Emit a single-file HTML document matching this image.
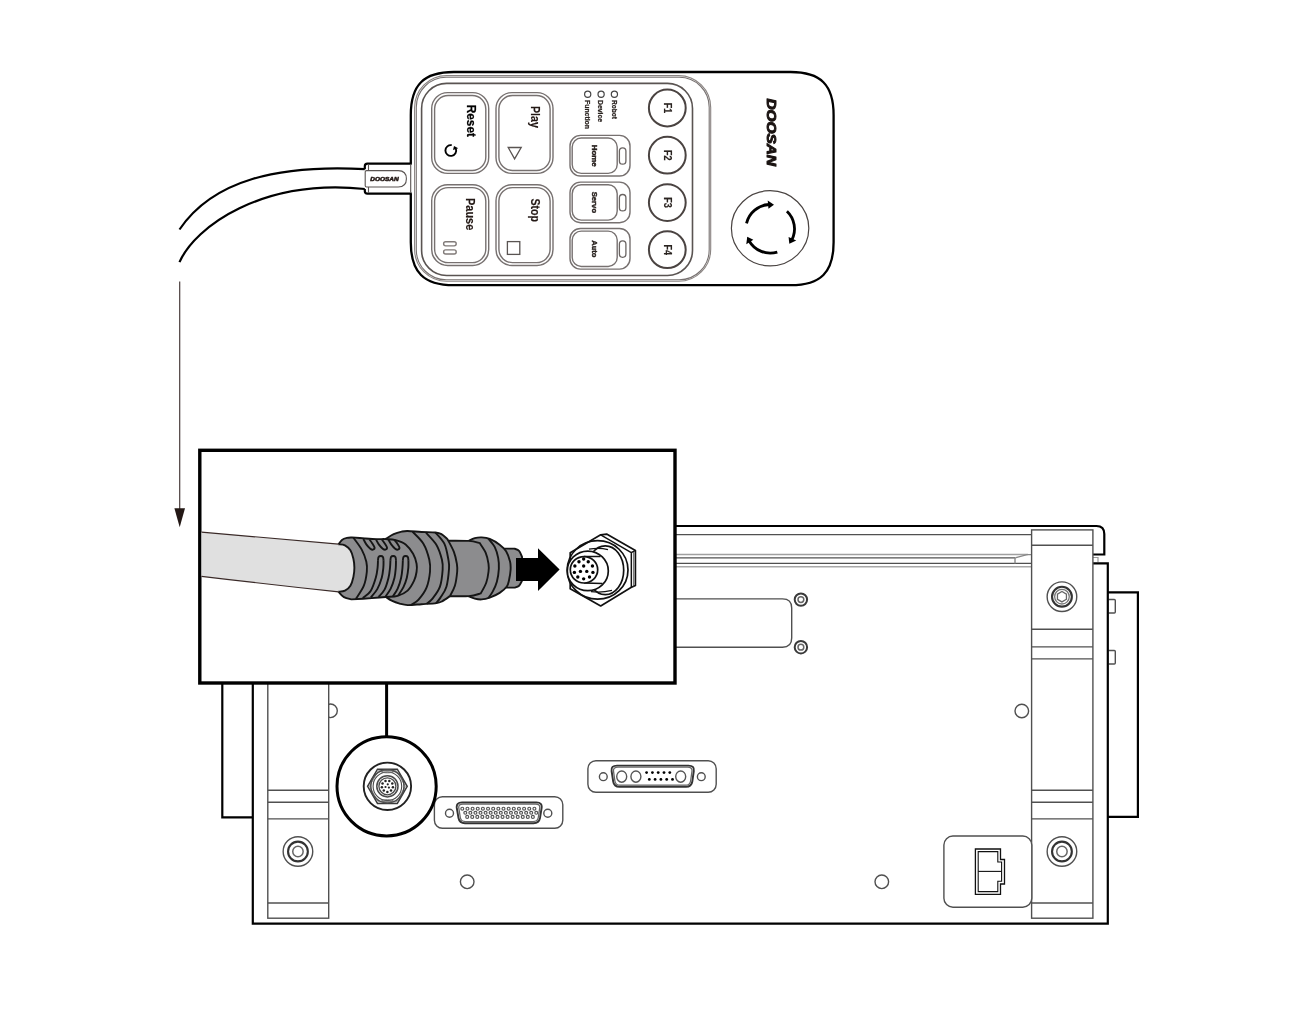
<!DOCTYPE html>
<html lang="en"><head><meta charset="utf-8"><title>Teach pendant connection</title>
<style>
html,body{margin:0;padding:0;background:#fff;}
body{width:1307px;height:1025px;overflow:hidden;}
svg{display:block;font-family:"Liberation Sans","DejaVu Sans",sans-serif;}
</style></head>
<body>
<svg width="1307" height="1025" viewBox="0 0 1307 1025">
<defs><filter id="soft" x="0" y="0" width="1307" height="1025" filterUnits="userSpaceOnUse" color-interpolation-filters="sRGB"><feGaussianBlur stdDeviation="0.45"/></filter></defs>
<rect width="1307" height="1025" fill="#fff"/>
<g filter="url(#soft)">
<path d="M252.8 817.3 H222.3 V592.3 H252.8" fill="none" stroke="#000" stroke-width="2.2" stroke-linejoin="miter"/>
<path d="M1107.8 592.3 H1137.9 V816.8 H1107.8" fill="none" stroke="#000" stroke-width="2.2" />
<path d="M1108.5 599.5 H1114.3 Q1115.3 599.5 1115.3 600.5 V612 Q1115.3 613 1114.3 613 H1108.5" fill="none" stroke="#505050" stroke-width="1.4" />
<path d="M1108.5 650.5 H1114.3 Q1115.3 650.5 1115.3 651.5 V663 Q1115.3 664 1114.3 664 H1108.5" fill="none" stroke="#505050" stroke-width="1.4" />
<path d="M1093 563.3 H1107.8 V923.6 H252.8 V560" fill="#fff" stroke="#000" stroke-width="2.2" />
<path d="M600 526 H1096.5 Q1104.3 526 1104.3 534 V554.5 H1093" fill="none" stroke="#000" stroke-width="2.2" />
<line x1="600.00" y1="534.60" x2="1031.80" y2="534.60" stroke="#505050" stroke-width="1.4" />
<line x1="600.00" y1="554.60" x2="1028.00" y2="554.60" stroke="#a0a0a0" stroke-width="1.5" />
<line x1="600.00" y1="557.90" x2="1015.00" y2="557.90" stroke="#505050" stroke-width="1.4" />
<line x1="600.00" y1="563.40" x2="1031.80" y2="563.40" stroke="#505050" stroke-width="1.4" />
<line x1="600.00" y1="566.70" x2="1031.80" y2="566.70" stroke="#a8a8a8" stroke-width="1.5" />
<path d="M1015 563.4 V558.6 Q1015 557.9 1016 557.6 L1027 554.6 H1031.8" fill="none" stroke="#888" stroke-width="1.4" />
<path d="M1093 557.5 H1098 V562" fill="none" stroke="#999" stroke-width="1.2" />
<path d="M600 598.9 H782.5 Q791.7 598.9 791.7 608 V638 Q791.7 647.2 782.5 647.2 H600" fill="none" stroke="#505050" stroke-width="1.4" />
<circle cx="800.90" cy="599.60" r="6.20" fill="none" stroke="#3a3a3a" stroke-width="2.0"/>
<circle cx="800.90" cy="599.60" r="2.90" fill="none" stroke="#666" stroke-width="1.5"/>
<circle cx="800.90" cy="647.20" r="6.20" fill="none" stroke="#3a3a3a" stroke-width="2.0"/>
<circle cx="800.90" cy="647.20" r="2.90" fill="none" stroke="#666" stroke-width="1.5"/>
<circle cx="1021.80" cy="711.00" r="6.80" fill="none" stroke="#505050" stroke-width="1.4"/>
<circle cx="467.20" cy="881.80" r="6.80" fill="none" stroke="#505050" stroke-width="1.4"/>
<circle cx="881.80" cy="881.80" r="6.80" fill="none" stroke="#505050" stroke-width="1.4"/>
<circle cx="330.50" cy="710.80" r="6.80" fill="none" stroke="#505050" stroke-width="1.4"/>
<rect x="267.8" y="529.9" width="60.90" height="388.30" fill="#fff" stroke="#505050" stroke-width="1.4"/>
<line x1="267.80" y1="545.30" x2="328.70" y2="545.30" stroke="#505050" stroke-width="1.4" />
<line x1="267.80" y1="629.20" x2="328.70" y2="629.20" stroke="#505050" stroke-width="1.4" />
<line x1="267.80" y1="646.90" x2="328.70" y2="646.90" stroke="#505050" stroke-width="1.4" />
<line x1="267.80" y1="658.90" x2="328.70" y2="658.90" stroke="#505050" stroke-width="1.4" />
<line x1="267.80" y1="790.20" x2="328.70" y2="790.20" stroke="#505050" stroke-width="1.4" />
<line x1="267.80" y1="802.20" x2="328.70" y2="802.20" stroke="#505050" stroke-width="1.4" />
<line x1="267.80" y1="818.90" x2="328.70" y2="818.90" stroke="#505050" stroke-width="1.4" />
<line x1="267.80" y1="903.00" x2="328.70" y2="903.00" stroke="#505050" stroke-width="1.4" />
<circle cx="297.95" cy="596.70" r="14.80" fill="none" stroke="#505050" stroke-width="1.4"/>
<circle cx="297.95" cy="596.70" r="9.90" fill="none" stroke="#333" stroke-width="2.1"/>
<circle cx="297.95" cy="596.70" r="7.30" fill="none" stroke="#777" stroke-width="1.3"/>
<polygon points="302.45,599.30 297.95,601.90 293.45,599.30 293.45,594.10 297.95,591.50 302.45,594.10" fill="none" stroke="#666" stroke-width="1.3"/>
<circle cx="297.95" cy="851.50" r="14.80" fill="none" stroke="#505050" stroke-width="1.4"/>
<circle cx="297.95" cy="851.50" r="9.90" fill="none" stroke="#333" stroke-width="2.1"/>
<circle cx="297.95" cy="851.50" r="5.20" fill="none" stroke="#666" stroke-width="1.5"/>
<rect x="1031.6" y="529.9" width="61.30" height="388.30" fill="#fff" stroke="#505050" stroke-width="1.4"/>
<line x1="1031.60" y1="545.30" x2="1092.90" y2="545.30" stroke="#505050" stroke-width="1.4" />
<line x1="1031.60" y1="629.20" x2="1092.90" y2="629.20" stroke="#505050" stroke-width="1.4" />
<line x1="1031.60" y1="646.90" x2="1092.90" y2="646.90" stroke="#505050" stroke-width="1.4" />
<line x1="1031.60" y1="658.90" x2="1092.90" y2="658.90" stroke="#505050" stroke-width="1.4" />
<line x1="1031.60" y1="790.20" x2="1092.90" y2="790.20" stroke="#505050" stroke-width="1.4" />
<line x1="1031.60" y1="802.20" x2="1092.90" y2="802.20" stroke="#505050" stroke-width="1.4" />
<line x1="1031.60" y1="818.90" x2="1092.90" y2="818.90" stroke="#505050" stroke-width="1.4" />
<line x1="1031.60" y1="903.00" x2="1092.90" y2="903.00" stroke="#505050" stroke-width="1.4" />
<circle cx="1061.95" cy="596.70" r="14.80" fill="none" stroke="#505050" stroke-width="1.4"/>
<circle cx="1061.95" cy="596.70" r="9.90" fill="none" stroke="#333" stroke-width="2.1"/>
<circle cx="1061.95" cy="596.70" r="7.30" fill="none" stroke="#777" stroke-width="1.3"/>
<polygon points="1066.45,599.30 1061.95,601.90 1057.45,599.30 1057.45,594.10 1061.95,591.50 1066.45,594.10" fill="none" stroke="#666" stroke-width="1.3"/>
<circle cx="1061.95" cy="851.50" r="14.80" fill="none" stroke="#505050" stroke-width="1.4"/>
<circle cx="1061.95" cy="851.50" r="9.90" fill="none" stroke="#333" stroke-width="2.1"/>
<circle cx="1061.95" cy="851.50" r="5.20" fill="none" stroke="#666" stroke-width="1.5"/>
<rect x="434.40" y="796.70" width="128.40" height="31.60" rx="8" ry="8" fill="none" stroke="#505050" stroke-width="1.4" />
<circle cx="449.50" cy="813.30" r="4.00" fill="none" stroke="#505050" stroke-width="1.4"/>
<circle cx="547.80" cy="813.30" r="4.00" fill="none" stroke="#505050" stroke-width="1.4"/>
<path d="M462 802.4 H536.5 Q542.5 802.4 541.6 808 L540 818 Q539 823.2 533.5 823.2 H465 Q459.5 823.2 458.5 818 L456.8 808 Q456 802.4 462 802.4 Z" fill="none" stroke="#333" stroke-width="1.9" />
<path d="M463 804 H535.5 Q540.3 804 539.7 808 L538.3 817.5 Q537.6 821.6 533 821.6 H465.6 Q461 821.6 460.3 817.5 L458.8 808 Q458.2 804 463 804 Z" fill="none" stroke="#666" stroke-width="1.3" />
<circle cx="462.30" cy="808.70" r="1.45" fill="none" stroke="#555" stroke-width="1.2"/>
<circle cx="467.45" cy="808.70" r="1.45" fill="none" stroke="#555" stroke-width="1.2"/>
<circle cx="472.60" cy="808.70" r="1.45" fill="none" stroke="#555" stroke-width="1.2"/>
<circle cx="477.75" cy="808.70" r="1.45" fill="none" stroke="#555" stroke-width="1.2"/>
<circle cx="482.90" cy="808.70" r="1.45" fill="none" stroke="#555" stroke-width="1.2"/>
<circle cx="488.05" cy="808.70" r="1.45" fill="none" stroke="#555" stroke-width="1.2"/>
<circle cx="493.20" cy="808.70" r="1.45" fill="none" stroke="#555" stroke-width="1.2"/>
<circle cx="498.35" cy="808.70" r="1.45" fill="none" stroke="#555" stroke-width="1.2"/>
<circle cx="503.50" cy="808.70" r="1.45" fill="none" stroke="#555" stroke-width="1.2"/>
<circle cx="508.65" cy="808.70" r="1.45" fill="none" stroke="#555" stroke-width="1.2"/>
<circle cx="513.80" cy="808.70" r="1.45" fill="none" stroke="#555" stroke-width="1.2"/>
<circle cx="518.95" cy="808.70" r="1.45" fill="none" stroke="#555" stroke-width="1.2"/>
<circle cx="524.10" cy="808.70" r="1.45" fill="none" stroke="#555" stroke-width="1.2"/>
<circle cx="529.25" cy="808.70" r="1.45" fill="none" stroke="#555" stroke-width="1.2"/>
<circle cx="534.40" cy="808.70" r="1.45" fill="none" stroke="#555" stroke-width="1.2"/>
<circle cx="465.30" cy="812.80" r="1.45" fill="none" stroke="#555" stroke-width="1.2"/>
<circle cx="470.37" cy="812.80" r="1.45" fill="none" stroke="#555" stroke-width="1.2"/>
<circle cx="475.44" cy="812.80" r="1.45" fill="none" stroke="#555" stroke-width="1.2"/>
<circle cx="480.51" cy="812.80" r="1.45" fill="none" stroke="#555" stroke-width="1.2"/>
<circle cx="485.58" cy="812.80" r="1.45" fill="none" stroke="#555" stroke-width="1.2"/>
<circle cx="490.65" cy="812.80" r="1.45" fill="none" stroke="#555" stroke-width="1.2"/>
<circle cx="495.72" cy="812.80" r="1.45" fill="none" stroke="#555" stroke-width="1.2"/>
<circle cx="500.79" cy="812.80" r="1.45" fill="none" stroke="#555" stroke-width="1.2"/>
<circle cx="505.86" cy="812.80" r="1.45" fill="none" stroke="#555" stroke-width="1.2"/>
<circle cx="510.93" cy="812.80" r="1.45" fill="none" stroke="#555" stroke-width="1.2"/>
<circle cx="516.00" cy="812.80" r="1.45" fill="none" stroke="#555" stroke-width="1.2"/>
<circle cx="521.07" cy="812.80" r="1.45" fill="none" stroke="#555" stroke-width="1.2"/>
<circle cx="526.14" cy="812.80" r="1.45" fill="none" stroke="#555" stroke-width="1.2"/>
<circle cx="531.21" cy="812.80" r="1.45" fill="none" stroke="#555" stroke-width="1.2"/>
<circle cx="536.28" cy="812.80" r="1.45" fill="none" stroke="#555" stroke-width="1.2"/>
<circle cx="467.20" cy="816.90" r="1.45" fill="none" stroke="#555" stroke-width="1.2"/>
<circle cx="472.25" cy="816.90" r="1.45" fill="none" stroke="#555" stroke-width="1.2"/>
<circle cx="477.30" cy="816.90" r="1.45" fill="none" stroke="#555" stroke-width="1.2"/>
<circle cx="482.35" cy="816.90" r="1.45" fill="none" stroke="#555" stroke-width="1.2"/>
<circle cx="487.40" cy="816.90" r="1.45" fill="none" stroke="#555" stroke-width="1.2"/>
<circle cx="492.45" cy="816.90" r="1.45" fill="none" stroke="#555" stroke-width="1.2"/>
<circle cx="497.50" cy="816.90" r="1.45" fill="none" stroke="#555" stroke-width="1.2"/>
<circle cx="502.55" cy="816.90" r="1.45" fill="none" stroke="#555" stroke-width="1.2"/>
<circle cx="507.60" cy="816.90" r="1.45" fill="none" stroke="#555" stroke-width="1.2"/>
<circle cx="512.65" cy="816.90" r="1.45" fill="none" stroke="#555" stroke-width="1.2"/>
<circle cx="517.70" cy="816.90" r="1.45" fill="none" stroke="#555" stroke-width="1.2"/>
<circle cx="522.75" cy="816.90" r="1.45" fill="none" stroke="#555" stroke-width="1.2"/>
<circle cx="527.80" cy="816.90" r="1.45" fill="none" stroke="#555" stroke-width="1.2"/>
<circle cx="532.85" cy="816.90" r="1.45" fill="none" stroke="#555" stroke-width="1.2"/>
<rect x="587.90" y="760.70" width="128.30" height="31.60" rx="8" ry="8" fill="none" stroke="#505050" stroke-width="1.4" />
<circle cx="603.30" cy="776.70" r="3.90" fill="none" stroke="#505050" stroke-width="1.4"/>
<circle cx="701.30" cy="776.70" r="3.90" fill="none" stroke="#505050" stroke-width="1.4"/>
<path d="M617 765.6 H688.5 Q694.6 765.6 693.8 771 L692.3 781.5 Q691.5 786.8 686 786.8 H619.5 Q614 786.8 613.2 781.5 L611.6 771 Q610.8 765.6 617 765.6 Z" fill="none" stroke="#333" stroke-width="1.9" />
<path d="M618 767.2 H687.5 Q692.6 767.2 692 771.2 L690.6 781 Q690 785.2 685.5 785.2 H620 Q615.5 785.2 614.9 781 L613.5 771.2 Q612.9 767.2 618 767.2 Z" fill="none" stroke="#666" stroke-width="1.3" />
<ellipse cx="621.7" cy="776.6" rx="5" ry="5.6" fill="none" stroke="#555" stroke-width="1.4"/>
<ellipse cx="635.9" cy="776.6" rx="5" ry="5.6" fill="none" stroke="#555" stroke-width="1.4"/>
<ellipse cx="680.7" cy="776.6" rx="5" ry="5.6" fill="none" stroke="#555" stroke-width="1.4"/>
<circle cx="646.60" cy="772.60" r="1.40" fill="#000" stroke="none" stroke-width="0"/>
<circle cx="649.30" cy="779.40" r="1.40" fill="#000" stroke="none" stroke-width="0"/>
<circle cx="652.40" cy="772.60" r="1.40" fill="#000" stroke="none" stroke-width="0"/>
<circle cx="655.10" cy="779.40" r="1.40" fill="#000" stroke="none" stroke-width="0"/>
<circle cx="658.20" cy="772.60" r="1.40" fill="#000" stroke="none" stroke-width="0"/>
<circle cx="660.90" cy="779.40" r="1.40" fill="#000" stroke="none" stroke-width="0"/>
<circle cx="664.00" cy="772.60" r="1.40" fill="#000" stroke="none" stroke-width="0"/>
<circle cx="666.70" cy="779.40" r="1.40" fill="#000" stroke="none" stroke-width="0"/>
<circle cx="669.80" cy="772.60" r="1.40" fill="#000" stroke="none" stroke-width="0"/>
<circle cx="672.50" cy="779.40" r="1.40" fill="#000" stroke="none" stroke-width="0"/>
<rect x="943.90" y="836.00" width="87.90" height="71.20" rx="9" ry="9" fill="#fff" stroke="#505050" stroke-width="1.4" />
<path d="M975.4 849 H1000.5 V859.5 H1004.5 V884 H1000.5 V894.3 H975.4 Z" fill="none" stroke="#111" stroke-width="1.3" />
<path d="M978.2 851.6 H997.8 V862 H1001.6 V881.3 H997.8 V891.6 H978.2 Z" fill="none" stroke="#111" stroke-width="1.1" />
<line x1="978.20" y1="871.40" x2="1001.60" y2="871.40" stroke="#111" stroke-width="1.1" />
<line x1="386.60" y1="682.00" x2="386.60" y2="737.00" stroke="#000" stroke-width="3" />
<circle cx="386.60" cy="786.30" r="49.60" fill="#fff" stroke="#000" stroke-width="3"/>
<circle cx="387.40" cy="786.30" r="23.70" fill="none" stroke="#222" stroke-width="1.9"/>
<polygon points="407.20,786.30 397.30,803.45 377.50,803.45 367.60,786.30 377.50,769.15 397.30,769.15" fill="none" stroke="#3a3a3a" stroke-width="1.5"/>
<polygon points="405.40,786.30 396.40,801.89 378.40,801.89 369.40,786.30 378.40,770.71 396.40,770.71" fill="none" stroke="#888" stroke-width="0.9"/>
<circle cx="387.40" cy="786.30" r="16.60" fill="none" stroke="#4a4a4a" stroke-width="1.5"/>
<circle cx="387.40" cy="786.30" r="14.30" fill="none" stroke="#4a4a4a" stroke-width="1.1"/>
<circle cx="387.40" cy="786.30" r="10.60" fill="none" stroke="#4a4a4a" stroke-width="1.5"/>
<circle cx="387.40" cy="786.30" r="8.50" fill="none" stroke="#4a4a4a" stroke-width="1.3"/>
<ellipse cx="387.4" cy="771.70" rx="6" ry="1.1" fill="none" stroke="#666" stroke-width="1"/>
<ellipse cx="387.4" cy="800.90" rx="6" ry="1.1" fill="none" stroke="#666" stroke-width="1"/>
<circle cx="392.91" cy="787.27" r="1.25" fill="#222" stroke="none" stroke-width="0"/>
<circle cx="391.00" cy="790.59" r="1.25" fill="#222" stroke="none" stroke-width="0"/>
<circle cx="387.40" cy="791.90" r="1.25" fill="#222" stroke="none" stroke-width="0"/>
<circle cx="383.80" cy="790.59" r="1.25" fill="#222" stroke="none" stroke-width="0"/>
<circle cx="381.89" cy="787.27" r="1.25" fill="#222" stroke="none" stroke-width="0"/>
<circle cx="382.55" cy="783.50" r="1.25" fill="#222" stroke="none" stroke-width="0"/>
<circle cx="385.48" cy="781.04" r="1.25" fill="#222" stroke="none" stroke-width="0"/>
<circle cx="389.32" cy="781.04" r="1.25" fill="#222" stroke="none" stroke-width="0"/>
<circle cx="392.25" cy="783.50" r="1.25" fill="#222" stroke="none" stroke-width="0"/>
<circle cx="388.93" cy="787.59" r="1.10" fill="#222" stroke="none" stroke-width="0"/>
<circle cx="385.52" cy="786.98" r="1.10" fill="#222" stroke="none" stroke-width="0"/>
<circle cx="387.75" cy="784.33" r="1.10" fill="#222" stroke="none" stroke-width="0"/>
<rect x="199.8" y="450.3" width="475.20" height="232.70" fill="#fff" stroke="#000" stroke-width="3.4"/>
<path d="M503.63 548.67 C505.46 548.67 512.75 548.67 514.58 548.67 L514.58 548.67 C515.32 549.03 517.81 549.50 519.05 550.86 C520.30 552.22 521.54 555.83 522.04 556.83 L522.04 556.83 C522.04 560.81 522.04 576.73 522.04 580.71 L522.04 580.71 C521.54 581.54 520.30 584.52 519.05 585.68 C517.81 586.84 515.32 587.34 514.58 587.67 L514.58 587.67 C512.75 587.67 505.46 587.67 503.63 587.67 Z" fill="#8c8c8e" stroke="#151515" stroke-width="1.9" />
<path d="M468.31 541.10 C469.39 540.61 472.54 538.73 474.78 538.12 C477.01 537.51 479.25 537.29 481.74 537.42 C484.23 537.56 486.72 537.70 489.70 538.92 C492.69 540.13 496.92 542.61 499.65 544.69 C502.39 546.76 504.38 548.50 506.12 551.35 C507.86 554.21 509.35 558.73 510.10 561.80 C510.85 564.87 510.76 566.78 510.60 569.76 C510.43 572.75 509.73 576.93 509.10 579.71 C508.47 582.50 508.39 584.29 506.82 586.48 C505.24 588.67 502.50 590.99 499.65 592.85 C496.80 594.70 492.69 596.53 489.70 597.62 C486.72 598.72 484.23 599.25 481.74 599.41 C479.25 599.58 477.01 599.18 474.78 598.62 C472.54 598.05 469.39 596.46 468.31 596.03 Z" fill="#8c8c8e" stroke="#151515" stroke-width="1.9" />
<path d="M488.21 538.52 C489.29 539.91 493.02 543.66 494.68 546.88 C496.33 550.09 497.46 554.17 498.16 557.82 C498.86 561.47 499.07 564.79 498.86 568.77 C498.64 572.75 497.89 577.89 496.87 581.70 C495.84 585.52 494.13 588.92 492.69 591.65 C491.24 594.39 488.96 597.04 488.21 598.12" fill="none" stroke="#151515" stroke-width="1.9" />
<path d="M444.93 540.71 C448.91 540.74 463.00 540.51 468.81 540.91 C474.61 541.30 477.93 542.73 479.75 543.09 L479.75 543.09 C480.75 544.72 484.26 549.40 485.72 552.85 C487.18 556.30 488.04 560.64 488.51 563.79 C488.97 566.94 488.89 568.60 488.51 571.75 C488.13 574.90 487.51 579.08 486.22 582.70 C484.93 586.31 481.66 591.65 480.75 593.44 L480.75 593.44 C478.76 593.89 474.78 595.68 468.81 596.13 C462.84 596.58 448.91 596.13 444.93 596.13 Z" fill="#8c8c8e" stroke="#151515" stroke-width="1.9" />
<path d="M385.73 538.92 C387.06 538.12 391.04 535.35 393.69 534.14 C396.34 532.93 399.33 532.17 401.65 531.65 C403.97 531.14 404.31 531.00 407.62 531.05 C410.94 531.10 416.91 531.70 421.55 531.95 C426.20 532.20 432.17 532.18 435.48 532.55 C438.80 532.91 439.46 533.04 441.45 534.14 C443.44 535.23 446.43 538.29 447.42 539.11 L447.42 539.11 C448.50 541.24 452.32 547.74 453.89 551.85 C455.47 555.96 456.33 560.47 456.88 563.79 C457.42 567.11 457.51 568.10 457.17 571.75 C456.84 575.40 456.10 581.62 454.89 585.68 C453.67 589.74 450.74 594.39 449.91 596.13 L449.91 596.13 C448.67 596.96 444.69 599.94 442.45 601.10 C440.21 602.27 439.96 602.58 436.48 603.09 C433.00 603.61 426.36 603.86 421.55 604.19 C416.74 604.52 411.27 605.18 407.62 605.08 C403.97 604.99 402.32 604.34 399.66 603.59 C397.01 602.85 394.02 601.73 391.70 600.61 C389.38 599.48 386.73 597.46 385.73 596.83 Z" fill="#8c8c8e" stroke="#151515" stroke-width="1.9" />
<path d="M412.60 531.75 C414.42 533.77 420.76 539.21 423.54 543.89 C426.33 548.57 428.24 555.17 429.31 559.81 C430.39 564.45 430.47 567.11 430.01 571.75 C429.55 576.39 428.43 583.03 426.53 587.67 C424.62 592.32 421.05 596.79 418.57 599.61 C416.08 602.43 412.76 603.76 411.60 604.59" fill="none" stroke="#151515" stroke-width="1.9" />
<path d="M425.53 532.25 C427.36 534.35 433.74 540.29 436.48 544.89 C439.21 549.48 440.92 555.67 441.95 559.81 C442.98 563.96 442.98 565.28 442.65 569.76 C442.32 574.24 441.65 581.87 439.96 586.68 C438.27 591.49 434.74 595.75 432.50 598.62 C430.26 601.49 427.52 603.01 426.53 603.89" fill="none" stroke="#151515" stroke-width="1.9" />
<path d="M435.48 532.55 C436.98 534.44 442.28 539.35 444.44 543.89 C446.59 548.43 447.66 555.67 448.42 559.81 C449.18 563.96 449.35 564.29 449.01 568.77 C448.68 573.24 447.85 581.87 446.43 586.68 C445.00 591.49 442.20 594.87 440.46 597.62 C438.72 600.37 436.73 602.27 435.98 603.19" fill="none" stroke="#151515" stroke-width="1.9" />
<path d="M338.47 544.39 C339.05 543.64 340.54 540.99 341.95 539.91 C343.36 538.83 345.27 538.33 346.93 537.92 C348.58 537.51 351.07 537.51 351.90 537.42 L351.90 537.42 C354.06 537.59 360.69 538.14 364.84 538.42 C368.98 538.70 373.29 539.00 376.78 539.11 C380.26 539.23 382.58 538.95 385.73 539.11 C388.88 539.28 392.36 539.23 395.68 540.11 C399.00 540.99 402.73 542.10 405.63 544.39 C408.53 546.68 411.27 550.61 413.09 553.84 C414.92 557.07 416.00 560.81 416.58 563.79 C417.16 566.78 416.99 568.93 416.58 571.75 C416.16 574.57 415.58 577.56 414.09 580.71 C412.60 583.86 410.36 588.14 407.62 590.66 C404.89 593.18 401.32 594.77 397.67 595.83 C394.02 596.89 390.04 596.64 385.73 597.02 C381.42 597.41 377.44 597.72 371.80 598.12 C366.16 598.52 355.22 599.20 351.90 599.41 L351.90 599.41 C350.57 599.03 346.18 598.42 343.94 597.12 C341.70 595.83 339.38 592.56 338.47 591.65 Z" fill="#8c8c8e" stroke="#151515" stroke-width="1.9" />
<path d="M353.39 537.72 C354.80 539.74 359.69 545.85 361.85 549.86 C364.01 553.87 365.50 558.15 366.33 561.80 C367.16 565.45 367.24 567.77 366.83 571.75 C366.41 575.73 365.67 581.14 363.84 585.68 C362.02 590.23 357.21 596.79 355.88 599.01" fill="none" stroke="#151515" stroke-width="1.9" />
<path d="M363.34 538.92 C363.84 539.83 365.17 542.76 366.33 544.39 C367.49 546.01 369.20 547.79 370.31 548.67 C371.42 549.55 372.28 549.83 373.00 549.66 C373.71 549.50 374.70 548.72 374.59 547.67 C374.47 546.63 373.14 544.75 372.30 543.39 C371.45 542.03 369.98 540.16 369.51 539.51" fill="none" stroke="#151515" stroke-width="1.9" />
<path d="M375.78 539.11 C376.28 539.99 377.61 542.80 378.77 544.39 C379.93 545.98 381.64 547.79 382.75 548.67 C383.86 549.55 384.72 549.83 385.43 549.66 C386.15 549.50 387.14 548.72 387.02 547.67 C386.91 546.63 385.58 544.72 384.74 543.39 C383.89 542.07 382.41 540.33 381.95 539.71" fill="none" stroke="#151515" stroke-width="1.9" />
<path d="M388.22 539.31 C388.72 540.16 390.04 542.83 391.20 544.39 C392.36 545.95 394.07 547.79 395.18 548.67 C396.30 549.55 397.16 549.83 397.87 549.66 C398.58 549.50 399.58 548.72 399.46 547.67 C399.35 546.63 398.02 544.69 397.17 543.39 C396.33 542.10 394.85 540.49 394.39 539.91" fill="none" stroke="#151515" stroke-width="1.9" />
<path d="M370.81 597.32 C371.88 595.96 375.45 592.43 377.27 589.16 C379.10 585.90 380.74 581.29 381.75 577.72 C382.76 574.16 383.04 570.67 383.34 567.77 C383.64 564.87 383.51 561.55 383.54 560.31" fill="none" stroke="#151515" stroke-width="1.9" />
<path d="M383.54 560.31 C383.44 559.76 383.41 557.74 382.95 557.02 C382.48 556.31 381.49 556.03 380.76 556.03 C380.03 556.03 379.03 556.31 378.57 557.02 C378.10 557.74 378.07 559.76 377.97 560.31" fill="none" stroke="#151515" stroke-width="1.9" />
<path d="M377.97 560.31 C377.90 561.55 377.94 564.87 377.57 567.77 C377.21 570.67 376.91 573.91 375.78 577.72 C374.65 581.54 372.96 587.26 370.81 590.66 C368.65 594.06 364.17 596.88 362.85 598.12" fill="none" stroke="#151515" stroke-width="1.9" />
<path d="M385.53 596.43 C386.39 595.13 389.21 591.78 390.71 588.67 C392.20 585.55 393.64 581.20 394.49 577.72 C395.33 574.24 395.53 570.67 395.78 567.77 C396.03 564.87 395.95 561.55 395.98 560.31" fill="none" stroke="#151515" stroke-width="1.9" />
<path d="M395.98 560.31 C395.88 559.76 395.85 557.74 395.38 557.02 C394.92 556.31 393.92 556.03 393.19 556.03 C392.46 556.03 391.47 556.31 391.00 557.02 C390.54 557.74 390.51 559.76 390.41 560.31" fill="none" stroke="#151515" stroke-width="1.9" />
<path d="M390.41 560.31 C390.34 561.55 390.33 564.87 390.01 567.77 C389.69 570.67 389.43 574.07 388.52 577.72 C387.61 581.37 386.20 586.48 384.54 589.66 C382.88 592.85 379.56 595.63 378.57 596.83" fill="none" stroke="#151515" stroke-width="1.9" />
<path d="M398.17 595.43 C399.05 594.06 402.00 590.13 403.44 587.17 C404.89 584.22 406.01 580.96 406.83 577.72 C407.64 574.49 408.05 570.67 408.32 567.77 C408.58 564.87 408.40 561.55 408.42 560.31" fill="none" stroke="#151515" stroke-width="1.9" />
<path d="M408.42 560.31 C408.32 559.76 408.29 557.74 407.82 557.02 C407.36 556.31 406.36 556.03 405.63 556.03 C404.90 556.03 403.91 556.31 403.44 557.02 C402.98 557.74 402.95 559.76 402.85 560.31" fill="none" stroke="#151515" stroke-width="1.9" />
<path d="M402.85 560.31 C402.78 561.55 402.73 564.87 402.45 567.77 C402.17 570.67 401.95 574.24 401.15 577.72 C400.36 581.20 399.05 585.58 397.67 588.67 C396.30 591.75 393.69 594.97 392.90 596.23" fill="none" stroke="#151515" stroke-width="1.9" />
<path d="M201.5 532.1 Q270 538.4 338.5 544.1 L338.47 544.29 C339.55 544.45 342.95 544.27 344.94 545.28 C346.93 546.30 349.00 548.10 350.41 550.36 C351.82 552.61 352.73 555.91 353.39 558.82 C354.06 561.72 354.39 564.75 354.39 567.77 C354.39 570.79 354.06 573.94 353.39 576.93 C352.73 579.91 351.82 583.39 350.41 585.68 C349.00 587.97 346.93 589.65 344.94 590.66 C342.95 591.67 339.55 591.57 338.47 591.75 Q270 584.5 201.5 576.3 Z" fill="#e0e0e0" stroke="none" stroke-width="0" />
<path d="M338.47 544.29 C339.55 544.45 342.95 544.27 344.94 545.28 C346.93 546.30 349.00 548.10 350.41 550.36 C351.82 552.61 352.73 555.91 353.39 558.82 C354.06 561.72 354.39 564.75 354.39 567.77 C354.39 570.79 354.06 573.94 353.39 576.93 C352.73 579.91 351.82 583.39 350.41 585.68 C349.00 587.97 346.93 589.65 344.94 590.66 C342.95 591.67 339.55 591.57 338.47 591.75" fill="none" stroke="#151515" stroke-width="1.9" />
<path d="M201.5 532.1 Q270 538.4 338.6 544.1" fill="none" stroke="#3a2a28" stroke-width="1.2" />
<path d="M201.5 576.3 Q270 584.5 338.6 591.9" fill="none" stroke="#3a2a28" stroke-width="1.2" />
<polygon points="516,558 538,558 538,548.2 559.6,569.6 538,591 538,581 516,581" fill="#000"/>
<path d="M600.7 534.8 L606.6 534.1 L635.4 550.4 V585.4 L631 587.6 L600.7 605.9 L570.2 588.8 V552.7 Z" fill="#fff" stroke="#111" stroke-width="1.7" stroke-linejoin="round"/>
<path d="M600.7 534.8 L631.3 552.6 V587.6 M631.3 552.6 L635.4 550.4" fill="none" stroke="#111" stroke-width="1.4" stroke-linejoin="round"/>
<path d="M633.4 552 V586.4" fill="none" stroke="#444" stroke-width="0.8" />
<ellipse cx="597.6" cy="569.9" rx="30.4" ry="29.2" fill="none" stroke="#111" stroke-width="1.7"/>
<ellipse cx="605.3" cy="570.2" rx="18.4" ry="24.4" fill="none" stroke="#111" stroke-width="1.7"/>
<path d="M589 549.2 Q599 547.4 608 549.6 M591 591.6 Q601 593 612 590.4" fill="none" stroke="#111" stroke-width="1.2" />
<ellipse cx="587.8" cy="570.9" rx="20.5" ry="19.8" fill="#fff" stroke="#111" stroke-width="1.7"/>
<path d="M584 556.6 L600.5 556.6 M584 583 L602.5 583.4" fill="none" stroke="#111" stroke-width="1.5" />
<ellipse cx="584" cy="569.8" rx="13.7" ry="13.2" fill="#fff" stroke="#111" stroke-width="1.7"/>
<circle cx="578.98" cy="561.76" r="1.70" fill="#000" stroke="none" stroke-width="0"/>
<circle cx="583.66" cy="559.02" r="1.70" fill="#000" stroke="none" stroke-width="0"/>
<circle cx="588.24" cy="561.76" r="1.70" fill="#000" stroke="none" stroke-width="0"/>
<circle cx="574.88" cy="566.05" r="1.70" fill="#000" stroke="none" stroke-width="0"/>
<circle cx="583.66" cy="566.05" r="1.70" fill="#000" stroke="none" stroke-width="0"/>
<circle cx="592.44" cy="566.05" r="1.70" fill="#000" stroke="none" stroke-width="0"/>
<circle cx="574.39" cy="572.39" r="1.70" fill="#000" stroke="none" stroke-width="0"/>
<circle cx="580.44" cy="571.41" r="1.70" fill="#000" stroke="none" stroke-width="0"/>
<circle cx="586.78" cy="571.41" r="1.70" fill="#000" stroke="none" stroke-width="0"/>
<circle cx="592.93" cy="572.39" r="1.70" fill="#000" stroke="none" stroke-width="0"/>
<circle cx="577.80" cy="577.07" r="1.70" fill="#000" stroke="none" stroke-width="0"/>
<circle cx="583.66" cy="578.83" r="1.70" fill="#000" stroke="none" stroke-width="0"/>
<circle cx="589.51" cy="577.07" r="1.70" fill="#000" stroke="none" stroke-width="0"/>
<path d="M365 169.1 C278.5 164.5 213 180 179.5 229.5" fill="none" stroke="#000" stroke-width="2.2" />
<path d="M365 189 C261.8 178.3 195.2 226.7 179.5 262.1" fill="none" stroke="#000" stroke-width="2.2" />
<line x1="179.70" y1="281.50" x2="179.70" y2="510.00" stroke="#4a3e3c" stroke-width="1.2" />
<polygon points="174.4,508.3 185,508.3 179.7,527.3" fill="#231815"/>
<path d="M453.80 72.00 H790.60 C820.70 72.00 833.60 84.90 833.60 115.00 V242.20 C833.60 272.30 820.70 285.20 790.60 285.20 H453.80 C423.70 285.20 410.80 272.30 410.80 242.20 V115.00 C410.80 84.90 423.70 72.00 453.80 72.00 Z" fill="#fff" stroke="#000" stroke-width="2.3"/>
<rect x="364.8" y="163.6" width="47.6" height="30.1" fill="#fff" stroke="none"/>
<path d="M411.8 163.6 H367.4 Q364.8 163.6 364.8 166.2 V169.2 M411.8 193.7 H367.4 Q364.8 193.7 364.8 191.1 V188.9" fill="none" stroke="#000" stroke-width="2.2" />
<path d="M365.2 171.8 Q365.2 170.6 366.6 170.6 H398.2 Q406.4 170.6 406.4 178.8 Q406.4 187 398.2 187 H366.6 Q365.2 187 365.2 185.8 Z M368.5 164.6 V170.6 M368.5 187 V192.7 M410.7 164.6 V192.7" fill="none" stroke="#5a5452" stroke-width="1.1" />
<text x="384.5" y="180.9" text-anchor="middle" font-size="5.6" font-weight="bold" font-style="italic" fill="#231815" stroke="#231815" stroke-width="0.5" textLength="28.4" lengthAdjust="spacingAndGlyphs">DOOSAN</text>
<rect x="414.60" y="75.60" width="296.10" height="205.70" rx="32" ry="32" fill="none" stroke="#8a8482" stroke-width="1.1" />
<rect x="416.30" y="77.20" width="292.90" height="202.60" rx="30" ry="30" fill="none" stroke="#777170" stroke-width="1.1" />
<rect x="421.60" y="83.40" width="270.90" height="192.10" rx="25" ry="25" fill="none" stroke="#5a5452" stroke-width="1.6" />
<rect x="431.70" y="92.60" width="57.00" height="80.80" rx="16" ry="16" fill="none" stroke="#777170" stroke-width="1.4" />
<rect x="434.60" y="95.50" width="51.20" height="75.00" rx="13.5" ry="13.5" fill="none" stroke="#777170" stroke-width="1.4" />
<rect x="496.00" y="92.60" width="57.00" height="80.80" rx="16" ry="16" fill="none" stroke="#777170" stroke-width="1.4" />
<rect x="498.90" y="95.50" width="51.20" height="75.00" rx="13.5" ry="13.5" fill="none" stroke="#777170" stroke-width="1.4" />
<rect x="431.70" y="184.70" width="57.00" height="80.80" rx="16" ry="16" fill="none" stroke="#777170" stroke-width="1.4" />
<rect x="434.60" y="187.60" width="51.20" height="75.00" rx="13.5" ry="13.5" fill="none" stroke="#777170" stroke-width="1.4" />
<rect x="496.00" y="184.70" width="57.00" height="80.80" rx="16" ry="16" fill="none" stroke="#777170" stroke-width="1.4" />
<rect x="498.90" y="187.60" width="51.20" height="75.00" rx="13.5" ry="13.5" fill="none" stroke="#777170" stroke-width="1.4" />
<text transform="translate(471.60,104.70) rotate(90)" x="0" y="0" dy="0.36em" font-size="13.2" font-weight="bold" font-style="normal" fill="#000" textLength="32.30" lengthAdjust="spacingAndGlyphs" stroke="#000" stroke-width="0.25">Reset</text>
<text transform="translate(534.90,105.90) rotate(90)" x="0" y="0" dy="0.36em" font-size="12" font-weight="bold" font-style="normal" fill="#231815" textLength="22.00" lengthAdjust="spacingAndGlyphs" stroke="#231815" stroke-width="0.15">Play</text>
<text transform="translate(470.90,198.00) rotate(90)" x="0" y="0" dy="0.36em" font-size="12.6" font-weight="bold" font-style="normal" fill="#231815" textLength="32.30" lengthAdjust="spacingAndGlyphs" stroke="#231815" stroke-width="0.15">Pause</text>
<text transform="translate(535.40,198.40) rotate(90)" x="0" y="0" dy="0.36em" font-size="12.6" font-weight="bold" font-style="normal" fill="#231815" textLength="23.60" lengthAdjust="spacingAndGlyphs" stroke="#231815" stroke-width="0.15">Stop</text>
<path d="M451.74 145.18 A5.4 5.4 0 1 0 455.9 148.7" fill="none" stroke="#000" stroke-width="1.9" />
<polygon points="454.0,146.0 458.2,148.3 453.0,150.0" fill="#000"/>
<polygon points="508.2,147.5 521.2,147.5 514.6,158.9" fill="none" stroke="#5a5452" stroke-width="1.3"/>
<rect x="443.60" y="241.80" width="12.60" height="4.10" rx="2.05" ry="2.05" fill="none" stroke="#807a78" stroke-width="1.4" />
<rect x="443.60" y="249.90" width="12.60" height="4.10" rx="2.05" ry="2.05" fill="none" stroke="#807a78" stroke-width="1.4" />
<rect x="507.40" y="241.60" width="12.40" height="12.80" rx="0" ry="0" fill="none" stroke="#5a5452" stroke-width="1.3" />
<circle cx="614.40" cy="94.20" r="3.10" fill="none" stroke="#444" stroke-width="1.2"/>
<text transform="translate(614.40,100.00) rotate(90)" x="0" y="0" dy="0.36em" font-size="7.4" font-weight="bold" font-style="normal" fill="#2a2320" textLength="19.00" lengthAdjust="spacingAndGlyphs" stroke="#2a2320" stroke-width="0.25">Robot</text>
<circle cx="601.10" cy="94.20" r="3.10" fill="none" stroke="#444" stroke-width="1.2"/>
<text transform="translate(601.10,100.00) rotate(90)" x="0" y="0" dy="0.36em" font-size="7.4" font-weight="bold" font-style="normal" fill="#2a2320" textLength="22.20" lengthAdjust="spacingAndGlyphs" stroke="#2a2320" stroke-width="0.25">Device</text>
<circle cx="587.70" cy="94.20" r="3.10" fill="none" stroke="#444" stroke-width="1.2"/>
<text transform="translate(587.70,100.00) rotate(90)" x="0" y="0" dy="0.36em" font-size="7.4" font-weight="bold" font-style="normal" fill="#2a2320" textLength="29.00" lengthAdjust="spacingAndGlyphs" stroke="#2a2320" stroke-width="0.25">Function</text>
<rect x="570.00" y="135.40" width="60.00" height="40.60" rx="10.5" ry="10.5" fill="none" stroke="#777170" stroke-width="1.4" />
<rect x="572.20" y="138.00" width="45.00" height="35.40" rx="9" ry="9" fill="none" stroke="#777170" stroke-width="1.4" />
<rect x="619.40" y="147.80" width="6.50" height="16.40" rx="3.2" ry="3.2" fill="none" stroke="#6a6462" stroke-width="1.3" />
<text transform="translate(594.60,144.70) rotate(90)" x="0" y="0" dy="0.36em" font-size="7.2" font-weight="bold" font-style="normal" fill="#2a2320" textLength="22.00" lengthAdjust="spacingAndGlyphs" stroke="#2a2320" stroke-width="0.4">Home</text>
<rect x="570.00" y="182.10" width="60.00" height="40.60" rx="10.5" ry="10.5" fill="none" stroke="#777170" stroke-width="1.4" />
<rect x="572.20" y="184.70" width="45.00" height="35.40" rx="9" ry="9" fill="none" stroke="#777170" stroke-width="1.4" />
<rect x="619.40" y="194.50" width="6.50" height="16.40" rx="3.2" ry="3.2" fill="none" stroke="#6a6462" stroke-width="1.3" />
<text transform="translate(594.60,191.70) rotate(90)" x="0" y="0" dy="0.36em" font-size="7.2" font-weight="bold" font-style="normal" fill="#2a2320" textLength="21.40" lengthAdjust="spacingAndGlyphs" stroke="#2a2320" stroke-width="0.4">Servo</text>
<rect x="570.00" y="228.50" width="60.00" height="40.60" rx="10.5" ry="10.5" fill="none" stroke="#777170" stroke-width="1.4" />
<rect x="572.20" y="231.10" width="45.00" height="35.40" rx="9" ry="9" fill="none" stroke="#777170" stroke-width="1.4" />
<rect x="619.40" y="240.90" width="6.50" height="16.40" rx="3.2" ry="3.2" fill="none" stroke="#6a6462" stroke-width="1.3" />
<text transform="translate(594.60,240.20) rotate(90)" x="0" y="0" dy="0.36em" font-size="7.2" font-weight="bold" font-style="normal" fill="#2a2320" textLength="17.20" lengthAdjust="spacingAndGlyphs" stroke="#2a2320" stroke-width="0.4">Auto</text>
<circle cx="667.30" cy="108.00" r="18.40" fill="none" stroke="#4a4341" stroke-width="2.0"/>
<text transform="translate(667.40,102.70) rotate(90)" x="0" y="0" dy="0.36em" font-size="10.2" font-weight="bold" font-style="normal" fill="#2a2320" textLength="10.60" lengthAdjust="spacingAndGlyphs" stroke="#2a2320" stroke-width="0.15">F1</text>
<circle cx="667.30" cy="155.20" r="18.40" fill="none" stroke="#4a4341" stroke-width="2.0"/>
<text transform="translate(667.40,149.90) rotate(90)" x="0" y="0" dy="0.36em" font-size="10.2" font-weight="bold" font-style="normal" fill="#2a2320" textLength="10.60" lengthAdjust="spacingAndGlyphs" stroke="#2a2320" stroke-width="0.15">F2</text>
<circle cx="667.30" cy="202.60" r="18.40" fill="none" stroke="#4a4341" stroke-width="2.0"/>
<text transform="translate(667.40,197.30) rotate(90)" x="0" y="0" dy="0.36em" font-size="10.2" font-weight="bold" font-style="normal" fill="#2a2320" textLength="10.60" lengthAdjust="spacingAndGlyphs" stroke="#2a2320" stroke-width="0.15">F3</text>
<circle cx="667.30" cy="249.70" r="18.40" fill="none" stroke="#4a4341" stroke-width="2.0"/>
<text transform="translate(667.40,244.40) rotate(90)" x="0" y="0" dy="0.36em" font-size="10.2" font-weight="bold" font-style="normal" fill="#2a2320" textLength="10.60" lengthAdjust="spacingAndGlyphs" stroke="#2a2320" stroke-width="0.15">F4</text>
<text transform="translate(772.00,98.40) rotate(90)" x="0" y="0" dy="0.36em" font-size="13.4" font-weight="bold" font-style="italic" fill="#1a1311" textLength="67.60" lengthAdjust="spacingAndGlyphs" stroke="#1a1311" stroke-width="1.0" stroke-linejoin="round">DOOSAN</text>
<ellipse cx="770.1" cy="228.3" rx="38.7" ry="37.6" fill="none" stroke="#4a4442" stroke-width="1.2"/>
<path d="M746.52 223.33 A24.3 24.3 0 0 1 769.35 204.51" fill="none" stroke="#000" stroke-width="2.8" />
<polygon points="774.00,204.80 767.72,200.41 768.45,208.78" fill="#000"/>
<path d="M786.93 211.17 A24.3 24.3 0 0 1 791.85 239.83" fill="none" stroke="#000" stroke-width="2.8" />
<polygon points="789.35,243.76 796.24,240.39 788.56,236.98" fill="#000"/>
<path d="M777.30 252.04 A24.3 24.3 0 0 1 749.16 240.95" fill="none" stroke="#000" stroke-width="2.8" />
<polygon points="747.22,236.71 746.30,244.32 753.34,239.75" fill="#000"/>
</g>
</svg>
</body></html>
